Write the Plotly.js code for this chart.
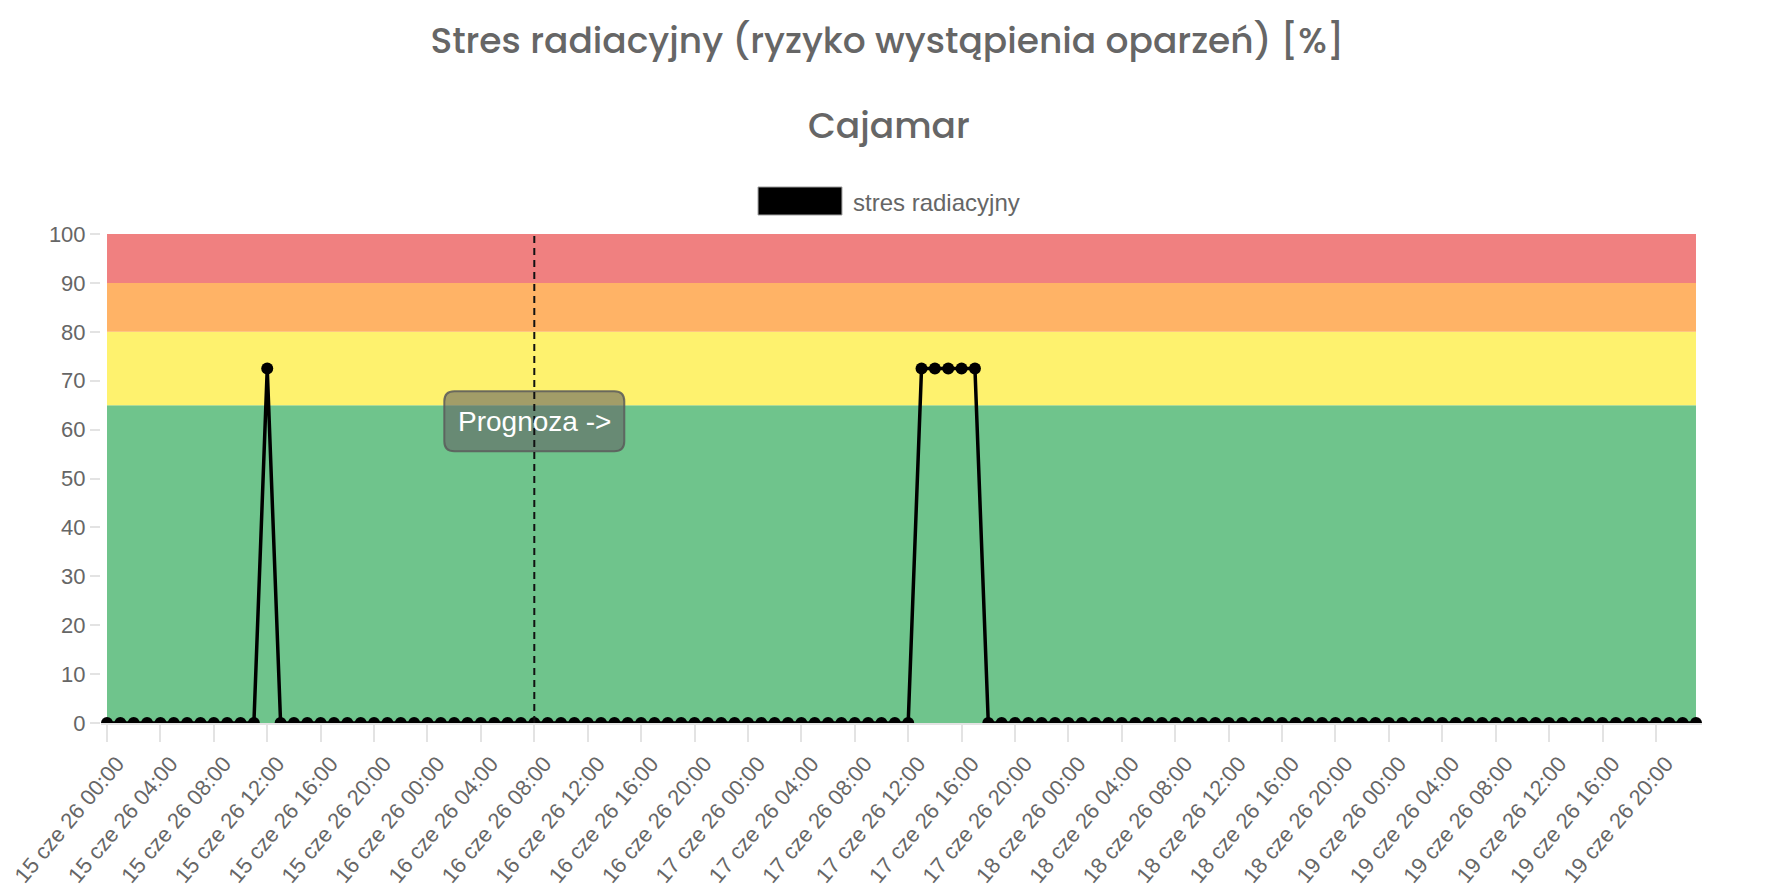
<!DOCTYPE html>
<html>
<head>
<meta charset="utf-8">
<script src="https://cdn.plot.ly/plotly-3.0.1.min.js"></script>
<style>
  html, body { margin: 0; padding: 0; background: #ffffff; }
  #chart { width: 1780px; height: 890px; }
</style>
</head>
<body>
<div id="chart"></div>
<script>
const TITLE = "Stres radiacyjny (ryzyko wystąpienia oparzeń) [%]";
const SUBTITLE = "Cajamar";
const SERIES_NAME = "stres radiacyjny";
const FORECAST_LABEL = "Prognoza ->";

// categories: one point per hour, 15-19 cze 2026
const DAYS = ["15", "16", "17", "18", "19"];
const MONTH = "cze";
const YEAR = "26";
const HOURS = [
  "00:00", "01:00", "02:00", "03:00", "04:00", "05:00", "06:00", "07:00",
  "08:00", "09:00", "10:00", "11:00", "12:00", "13:00", "14:00", "15:00",
  "16:00", "17:00", "18:00", "19:00", "20:00", "21:00", "22:00", "23:00",
];

// values per day, hour by hour
const DAY_15 = [0, 0, 0, 0, 0, 0, 0, 0, 0, 0, 0, 0, 72.5, 0, 0, 0, 0, 0, 0, 0, 0, 0, 0, 0];
const DAY_16 = [0, 0, 0, 0, 0, 0, 0, 0, 0, 0, 0, 0, 0, 0, 0, 0, 0, 0, 0, 0, 0, 0, 0, 0];
const DAY_17 = [0, 0, 0, 0, 0, 0, 0, 0, 0, 0, 0, 0, 0, 72.5, 72.5, 72.5, 72.5, 72.5, 0, 0, 0, 0, 0, 0];
const DAY_18 = [0, 0, 0, 0, 0, 0, 0, 0, 0, 0, 0, 0, 0, 0, 0, 0, 0, 0, 0, 0, 0, 0, 0, 0];
const DAY_19 = [0, 0, 0, 0, 0, 0, 0, 0, 0, 0, 0, 0, 0, 0, 0, 0, 0, 0, 0, 0, 0, 0, 0, 0];

const FORECAST_START = "16 cze 26 08:00";

// risk bands (lower, upper)
const BAND_LIMITS = [0, 65, 80, 90, 100];
const BAND_COLORS = ["#6fc48c", "#fef26e", "#ffb366", "#f08080"];
const Y_TICKS = [0, 10, 20, 30, 40, 50, 60, 70, 80, 90, 100];

const FONT = "'Liberation Sans', Arial, Helvetica, sans-serif";
const TITLE_FONT = "Poppins, 'DejaVu Sans', sans-serif";
const GRAY = "#666666";
const TICK_GRAY = "#e3e3e3";
const LABEL_Y = 61.7;

const labels = [];
DAYS.forEach((day) => {
  HOURS.forEach((hour) => labels.push(`${day} ${MONTH} ${YEAR} ${hour}`));
});
const values = [...DAY_15, ...DAY_16, ...DAY_17, ...DAY_18, ...DAY_19];
const tickLabels = labels.filter((_, i) => i % 4 === 0);

const trace = {
  x: labels,
  y: values,
  type: "scatter",
  mode: "lines+markers",
  name: SERIES_NAME,
  line: { color: "#000000", width: 3.5 },
  marker: { color: "#000000", size: 12 },
  cliponaxis: true,
  showlegend: false,
  hoverinfo: "x+y",
};

const bandShapes = BAND_COLORS.map((color, i) => ({
  type: "rect",
  xref: "x",
  yref: "y",
  x0: labels[0],
  x1: labels[labels.length - 1],
  y0: BAND_LIMITS[i],
  y1: BAND_LIMITS[i + 1],
  fillcolor: color,
  line: { width: 0 },
  layer: "below",
}));

// rounded label box around "Prognoza ->", sized in pixels
const labelBox = {
  type: "path",
  xref: "x",
  yref: "y",
  xsizemode: "pixel",
  ysizemode: "pixel",
  xanchor: FORECAST_START,
  yanchor: LABEL_Y,
  path: "M -80,-30 L 80,-30 Q 90,-30 90,-20 L 90,20 Q 90,30 80,30 " +
        "L -80,30 Q -90,30 -90,20 L -90,-20 Q -90,-30 -80,-30 Z",
  fillcolor: "rgba(100,100,100,0.6)",
  line: { color: "rgba(90,90,90,0.85)", width: 2 },
  layer: "above",
};

const forecastLine = {
  type: "line",
  xref: "x",
  yref: "paper",
  x0: FORECAST_START,
  x1: FORECAST_START,
  y0: 0,
  y1: 1,
  line: { color: "#111111", width: 2, dash: "7px,5px" },
  layer: "above",
};

const legendBox = {
  type: "rect",
  xref: "paper",
  yref: "paper",
  x0: 0.4104,
  x1: 0.4628,
  y0: 1.0389,
  y1: 1.0961,
  fillcolor: "#000000",
  line: { color: "#9a9a9a", width: 1 },
};

const layout = {
  width: 1780,
  height: 890,
  margin: { l: 101, r: 78, t: 234, b: 167 },
  paper_bgcolor: "#ffffff",
  plot_bgcolor: "#ffffff",
  font: { family: FONT, color: GRAY, size: 22 },
  title: {
    text: TITLE,
    font: { family: TITLE_FONT, size: 36, color: GRAY, weight: 500 },
    x: 0.4985,
    xanchor: "center",
    yref: "container",
    y: 0.955,
    yanchor: "middle",
  },
  xaxis: {
    type: "category",
    range: [-0.45, labels.length - 0.55],
    tickmode: "array",
    tickvals: tickLabels,
    ticktext: tickLabels,
    tickangle: -50,
    ticklabelshift: 10,
    ticks: "outside",
    ticklen: 17,
    tickwidth: 2,
    tickcolor: TICK_GRAY,
    showgrid: false,
    zeroline: false,
    showline: true,
    linecolor: TICK_GRAY,
    linewidth: 2,
    tickfont: { family: FONT, size: 22, color: GRAY },
    fixedrange: true,
  },
  yaxis: {
    range: [0, 100],
    tickmode: "array",
    tickvals: Y_TICKS,
    ticks: "outside",
    ticklen: 10,
    tickwidth: 2,
    tickcolor: TICK_GRAY,
    showgrid: false,
    zeroline: false,
    showline: false,
    tickfont: { family: FONT, size: 22, color: GRAY },
    fixedrange: true,
  },
  shapes: [...bandShapes, labelBox, forecastLine, legendBox],
  annotations: [
    {
      text: SUBTITLE,
      xref: "paper",
      yref: "paper",
      x: 0.4925,
      y: 1.2219,
      xanchor: "center",
      yanchor: "middle",
      showarrow: false,
      font: { family: TITLE_FONT, size: 36, color: GRAY, weight: 500 },
    },
    {
      text: SERIES_NAME,
      xref: "paper",
      yref: "paper",
      x: 0.4685,
      y: 1.0654,
      xanchor: "left",
      yanchor: "middle",
      showarrow: false,
      font: { family: FONT, size: 24, color: GRAY },
    },
    {
      text: FORECAST_LABEL,
      xref: "x",
      yref: "y",
      x: FORECAST_START,
      y: LABEL_Y,
      xanchor: "center",
      yanchor: "middle",
      showarrow: false,
      font: { family: FONT, size: 28, color: "#ffffff" },
    },
  ],
  hovermode: "closest",
};

Plotly.newPlot("chart", [trace], layout, { displayModeBar: false, staticPlot: true });
</script>
</body>
</html>
